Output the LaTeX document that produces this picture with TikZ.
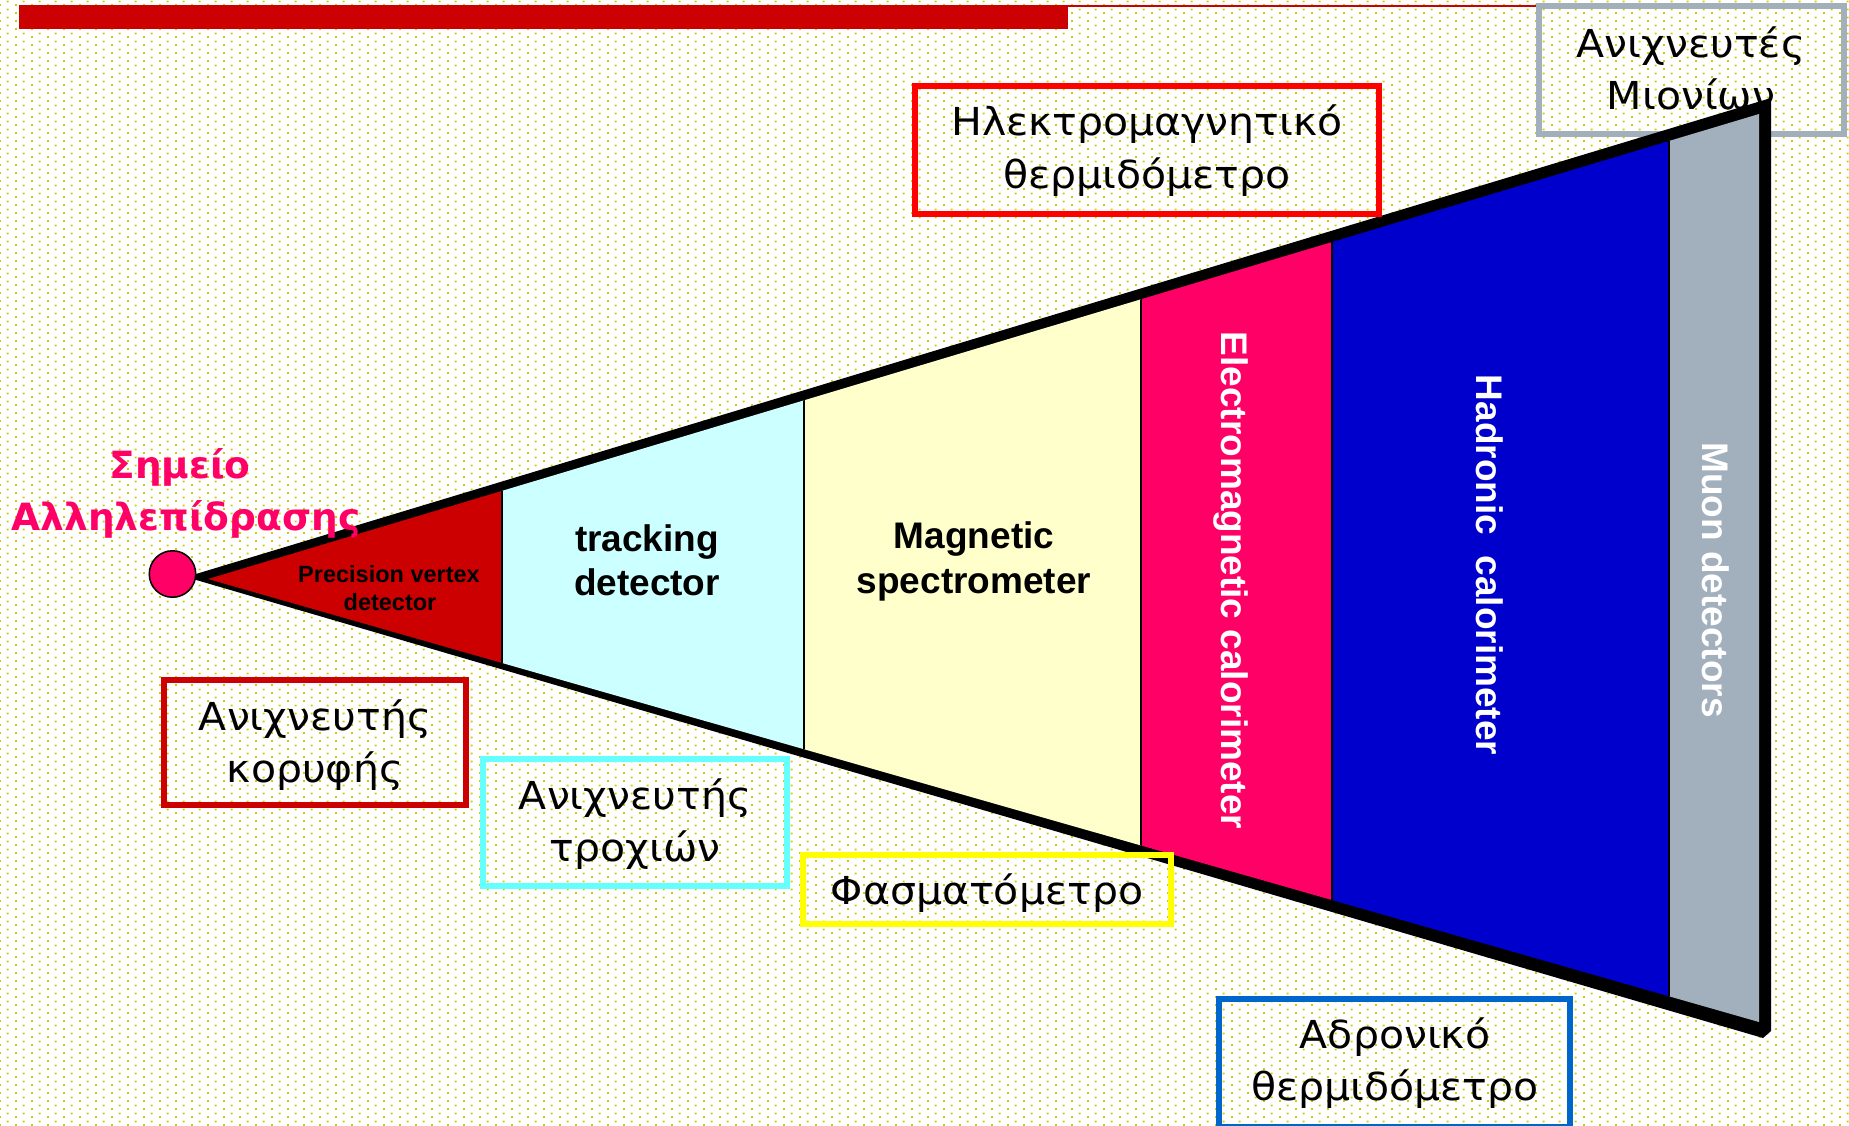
\documentclass[tikz,border=0pt]{standalone}
\usepackage{fontspec}
\newfontfamily\grk{DejaVu Sans}
\newfontfamily\grkw[FakeStretch=1.065]{DejaVu Sans}
\newfontfamily\arl{Liberation Sans}
\usetikzlibrary{patterns}
\definecolor{dotc}{HTML}{CCCC00}
\definecolor{barred}{HTML}{CC0000}
\definecolor{vtx}{HTML}{CC0000}
\definecolor{trk}{HTML}{CCFFFF}
\definecolor{mag}{HTML}{FFFFCC}
\definecolor{emc}{HTML}{FF0066}
\definecolor{hadc}{HTML}{0000CC}
\definecolor{muc}{HTML}{A2B0BE}
\definecolor{cyb}{HTML}{66FFFF}
\definecolor{yb}{HTML}{FFFF00}
\definecolor{bb}{HTML}{0066CC}
\definecolor{emb}{HTML}{FF0000}
\pgfdeclarepatternformonly{ydots}{\pgfpointorigin}{\pgfpoint{16pt}{8pt}}{\pgfpoint{16pt}{8pt}}{%
  \pgfpathrectangle{\pgfpoint{0pt}{0pt}}{\pgfpoint{2.1pt}{2.1pt}}%
  \pgfpathrectangle{\pgfpoint{8pt}{4pt}}{\pgfpoint{2.1pt}{2.1pt}}%
  \pgfusepath{fill}}
\tikzset{
  lbl/.style={font=\grkw\fontsize{38.5}{46}\selectfont, anchor=base, inner sep=0pt, text=black},
  ttl/.style={font=\grk\bfseries\fontsize{37.5}{46}\selectfont, anchor=base, inner sep=0pt, text=emc},
  lbox/.style={draw, line width=6pt, inner sep=0pt, fill=none},
  cone/.style={font=\arl\bfseries\fontsize{37}{44}\selectfont, anchor=base, inner sep=0pt},
  vcone/.style={font=\arl\bfseries\fontsize{37}{44}\selectfont, inner sep=0pt, rotate=-90, text=white},
}
\begin{document}
\begin{tikzpicture}[x=1pt,y=-1pt]
\useasboundingbox (0,0) rectangle (1849,1125);
\fill[white] (0,0) rectangle (1849,1125);
\fill[pattern=ydots,pattern color=dotc] (0,0) rectangle (1849,1125);
% top bar
\fill[barred] (19,5) rectangle (1068,29);
\fill[barred] (1068,5) rectangle (1536,7);
% muon box (under the cone)
\node[lbox, draw=muc, minimum width=305pt, minimum height=128pt] (mubox) at (1691.5,70) {};
\node[lbl] (mu1) at (1691,57) {Ανιχνευτές};
\node[lbl] (mu2) at (1691,109) {Μιονίων};
% cone
\fill[black] (186,577) -- (1771,98) -- (1771,1031) -- (1763,1038) -- cycle;
\begin{scope}
\clip (208,579) -- (1759,114) -- (1759,1022) -- cycle;
\fill[vtx] (150,0) rectangle (502,1125);
\fill[trk] (502,0) rectangle (804,1125);
\fill[mag] (804,0) rectangle (1141,1125);
\fill[emc] (1141,0) rectangle (1332,1125);
\fill[hadc] (1332,0) rectangle (1669,1125);
\fill[muc] (1669,0) rectangle (1800,1125);
\foreach \xx in {502,804,1141,1332,1669} \draw[line width=1.5pt] (\xx,0) -- (\xx,1125);
\end{scope}
% cone texts
\node[cone, font=\arl\bfseries\fontsize{23.5}{28}\selectfont] (pv1) at (389,582) {Precision vertex};
\node[cone, font=\arl\bfseries\fontsize{23.5}{28}\selectfont] (pv2) at (390,610) {detector};
\node[cone] (tr1) at (647,551) {tracking};
\node[cone] (tr2) at (647,595) {detector};
\node[cone] (ms1) at (974,548) {Magnetic};
\node[cone] (ms2) at (974,593) {spectrometer};
\node[vcone] (emt) at (1231,580.5) {Electromagnetic calorimeter};
\node[vcone] (hdt) at (1490,565) {Hadronic\ \ calorimeter};
\node[vcone] (mut) at (1716,580) {Muon detectors};
% interaction point
\node[circle, fill=emc, draw=black, line width=1.5pt, minimum size=46.5pt, inner sep=0pt] (ip) at (172.5,574) {};
\node[ttl] (ip1) at (180,478) {Σημείο};
\node[ttl] (ip2) at (186,530) {Αλληλεπίδρασης};
% label boxes
\node[lbox, draw=emb, minimum width=464pt, minimum height=128pt] (embox) at (1147,150) {};
\node[lbl] (em1) at (1147,135) {Ηλεκτρομαγνητικό};
\node[lbl] (em2) at (1147,188) {θερμιδόμετρο};
\node[lbox, draw=vtx, minimum width=302pt, minimum height=125pt] (vxbox) at (315,742.5) {};
\node[lbl] (vx1) at (315,730) {Ανιχνευτής};
\node[lbl] (vx2) at (315,782) {κορυφής};
\node[lbox, draw=cyb, minimum width=304pt, minimum height=127pt] (trbox) at (635,822.5) {};
\node[lbl] (trl1) at (635,809) {Ανιχνευτής};
\node[lbl] (trl2) at (635,861) {τροχιών};
\node[lbox, draw=yb, minimum width=368pt, minimum height=69pt] (msbox) at (987,889.5) {};
\node[lbl] (msl) at (987,904) {Φασματόμετρο};
\node[lbox, draw=bb, minimum width=351pt, minimum height=128pt] (hdbox) at (1394.5,1063) {};
\node[lbl] (hd1) at (1395,1048) {Αδρονικό};
\node[lbl] (hd2) at (1395,1100) {θερμιδόμετρο};
\end{tikzpicture}
\end{document}
